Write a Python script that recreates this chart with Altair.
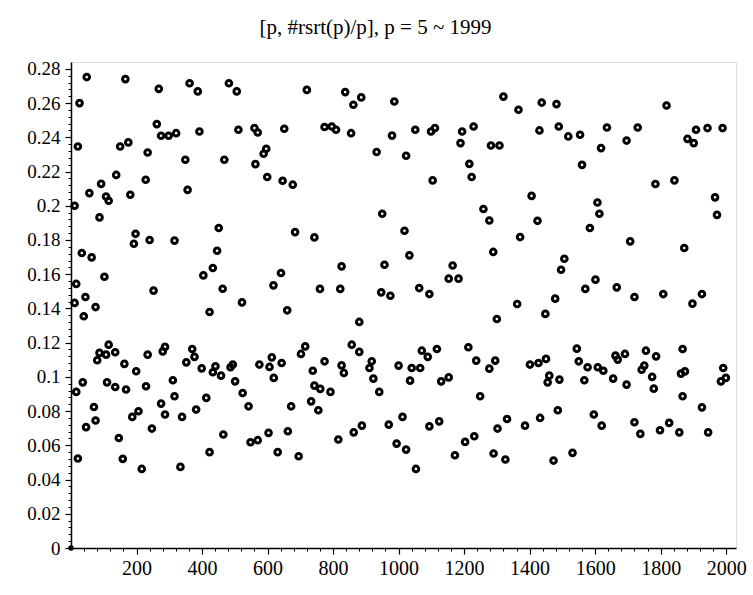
import altair as alt
import pandas as pd

# Points: prime p (x) and #rsrt(p)/p (y)
p_values = [
    48, 166, 268, 26, 262, 275, 298, 21, 150, 175, 234, 138, 228, 92, 56, 107, 115, 181, 11, 87,
    197, 192, 240, 33, 63, 102, 16,
    252, 11, 44, 39, 75, 115, 87, 80, 107, 135, 163, 199, 234, 280, 287, 36, 16, 110, 135, 168,
    229, 70, 75, 46, 187, 206, 275, 287, 247, 146, 21, 158, 216,
    321, 362, 387, 482, 506, 392, 511, 560, 570, 651, 349, 468, 596, 588, 563, 599, 646, 356, 451,
    316, 446, 433, 404, 463, 641, 618,
    522, 423, 370, 377, 352, 311, 316, 399, 441, 433, 458, 494, 487, 501, 524, 542, 575, 613, 606,
    643, 619, 413, 382, 339, 465, 548, 570, 603, 631, 423, 334,
    720, 837, 886, 862, 987, 774, 796, 809, 855, 980, 933, 677, 950, 684, 743, 826, 957, 760, 822,
    947, 975, 660, 880, 715, 702, 857, 880, 774, 738, 826, 833, 918, 911, 923, 941, 1000, 743, 761,
    792, 733, 755, 672, 662, 970, 994, 888, 863, 816, 695,
    1320, 1051, 1099, 1111, 1194, 1229, 1189, 1282, 1308, 1023, 1216, 1223, 1104, 1259, 1277, 1018,
    1033, 1289, 1165, 1153, 1183, 1063, 1094,
    1300, 1071, 1089, 1117, 1213, 1237, 1295, 1277, 1040, 1066, 1035, 1130, 1153, 1249, 1012, 1094,
    1124, 1023, 1203, 1231, 1172, 1331, 1302, 1290, 1326, 1053,
    1366, 1437, 1482, 1430, 1489, 1518, 1554, 1636, 1696, 1618, 1560, 1406, 1424, 1371, 1607, 1613,
    1584, 1506, 1496, 1601, 1570, 1666,
    1362, 1478, 1448, 1401, 1427, 1450, 1544, 1550, 1460, 1455, 1491, 1577, 1608, 1625, 1567, 1662,
    1669, 1691, 1655, 1696, 1486, 1432, 1386, 1596, 1620, 1531, 1473,
    1818, 1730, 1908, 1943, 1989, 1882, 1901, 1784, 1842, 1966, 1972, 1707, 1872,
    1720, 1808, 1926, 1897, 1755, 1786, 1867, 1750, 1742, 1774, 1779, 1862, 1874, 1867, 1991, 1999,
    1984, 1926, 1720, 1738, 1798, 1826, 1857, 1945,
]
ratio_values = [
    .2752, .274, .2683, .260, .2477, .2409, .2409, .2346, .2346, .237, .2311, .218, .2152, .2128,
    .2074, .2054, .2029, .2064, .2, .1932, .1836, .1778, .18, .1724, .1698, .1585, .1543,
    .1504, .1432, .1467, .1354, .1408, .1188, .114, .1097, .113, .1144, .1076, .1033, .113, .1149,
    .1175, .0968, .0912, .0968, .0941, .0926, .0945, .0824, .0745, .0706, .0766, .0799, .0844,
    .078, .0698, .0643, .0523, .0521, .0462,
    .2424, .2716, .2668, .2716, .2668, .2434, .2444, .2454, .2428, .245, .2269, .2269, .2333,
    .2304, .2243, .2168, .2146, .2093, .187, .1796, .1737, .1636, .1593, .1515, .1607, .1535,
    .1435, .1379, .1163, .1117, .1085, .098, .0887, .105, .1062, .1027, .1007, .1072, .1056,
    .0974, .0906, .0828, .1072, .1114, .1058, .1081, .0994, .0877, .0809, .0766, .0663, .0618,
    .063, .0673, .056, .056, .0474,
    .2677, .2664, .2633, .259, .2609, .246, .2463, .2444, .2424, .241, .2314, .2123, .1953,
    .1846, .1815, .1646, .1655, .1514, .1514,
    .1494, .1474, .1389, .1321, .1178, .1134, .1188, .1146, .1091, .1036, .1067, .1023, .1091,
    .1052, .099, .0912, .1066, .0949, .093, .0912, .0857, .0805, .0828, .0682, .0721, .061,
    .0715, .0676, .0634, .0536,
    .2638, .2444, .2434, .2454, .2434, .2463, .2366, .2352, .2352, .2292, .2245, .2168, .2148,
    .1981, .1914, .1854, .171, .173, .1651, .1574, .1574, .1519, .1484,
    .1338, .1153, .1117, .1163, .1173, .1095, .1095, .1048, .1052, .1052, .0978, .0974, .0997,
    .0887, .0766, .0711, .074, .0575, .062, .0653, .0542, .0754, .0698, .0552, .0517, .0462,
    .2561, .2603, .2594, .244, .2463, .2405, .2415, .2457, .2381, .2337, .2239, .2058, .1912,
    .1817, .2019, .1953, .187, .169, .1626, .1568, .1514, .1523,
    .1426, .1457, .1368, .1072, .1081, .1105, .1165, .1091, .1007, .0968, .0984, .1056, .1056,
    .1036, .098, .1124, .1101, .1134, .099, .0955, .0805, .076, .0715, .078, .0715, .0556, .0511,
    .2586, .2457, .2444, .2454, .2454, .2391, .2366, .2127, .2148, .2049, .1947, .1792, .1753,
    .1467, .1484, .1484, .1428, .1153, .112, .1163, .1066, .1042, .1, .0931, .1019, .1032, .0887,
    .1052, .0994, .0974, .0822, .0735, .0667, .0688, .0731, .0676, .0676,
]

origin_p = [0]
origin_r = [0]

x_major = [200, 400, 600, 800, 1000, 1200, 1400, 1600, 1800, 2000]
x_minor = [v for v in range(40, 2040, 40) if v % 200 != 0]
y_major = [0, 0.02, 0.04, 0.06, 0.08, 0.1, 0.12, 0.14, 0.16, 0.18, 0.2, 0.22, 0.24, 0.26, 0.28]
y_minor = [round(i * 0.004, 3) for i in range(1, 71) if i % 5 != 0]

df = pd.DataFrame({"p": p_values, "r": ratio_values})
df_origin = pd.DataFrame({"p": origin_p, "r": origin_r})

FONT = "Liberation Serif"
xscale = alt.Scale(domain=[0, 2030], nice=False, zero=False)
yscale = alt.Scale(domain=[0, 0.284], nice=False, zero=False)

points = alt.Chart(df).mark_point(
    shape="circle", filled=False, color="black", size=32, strokeWidth=3, opacity=1
).encode(
    x=alt.X("p:Q", scale=xscale, axis=alt.Axis(
        values=x_major, format="d", title=None, orient="bottom",
        domainColor="black", domainWidth=1.5, tickColor="black", tickSize=6, tickWidth=1.2,
        labelFont=FONT, labelFontSize=20, labelColor="black", labelPadding=4, grid=False)),
    y=alt.Y("r:Q", scale=yscale, axis=alt.Axis(
        values=y_major, format=".2~f", title=None, orient="left",
        domainColor="black", domainWidth=1.5, tickColor="black", tickSize=6, tickWidth=1.2,
        labelFont=FONT, labelFontSize=19, labelColor="black", labelPadding=5, grid=False)),
)

minor = alt.Chart(df).mark_point(opacity=0).encode(
    x=alt.X("p:Q", scale=xscale, axis=alt.Axis(
        values=x_minor, labels=False, title=None, orient="bottom", domain=False,
        tickColor="black", tickSize=3, tickWidth=1, grid=False)),
    y=alt.Y("r:Q", scale=yscale, axis=alt.Axis(
        values=y_minor, labels=False, title=None, orient="left", domain=False,
        tickColor="black", tickSize=3, tickWidth=1, grid=False)),
)

origin = alt.Chart(df_origin).mark_point(
    shape="circle", filled=True, color="black", size=30, opacity=1
).encode(x=alt.X("p:Q", scale=xscale, axis=None), y=alt.Y("r:Q", scale=yscale, axis=None))

chart = alt.layer(minor, points, origin).resolve_axis(x="independent", y="independent").properties(
    width=665,
    height=486,
    padding={"left": 71, "top": 62, "right": 17, "bottom": 47},
    autosize=alt.AutoSizeParams(type="none"),
    title=alt.TitleParams(
        text="[p, #rsrt(p)/p], p = 5 ~ 1999",
        font=FONT, fontSize=21, fontWeight="normal", color="black",
        anchor="middle", offset=22, dx=-28,
    ),
).configure_view(stroke=None).configure(background="white")

chart.save("out.html", embed_options={"renderer": "svg", "actions": False})
